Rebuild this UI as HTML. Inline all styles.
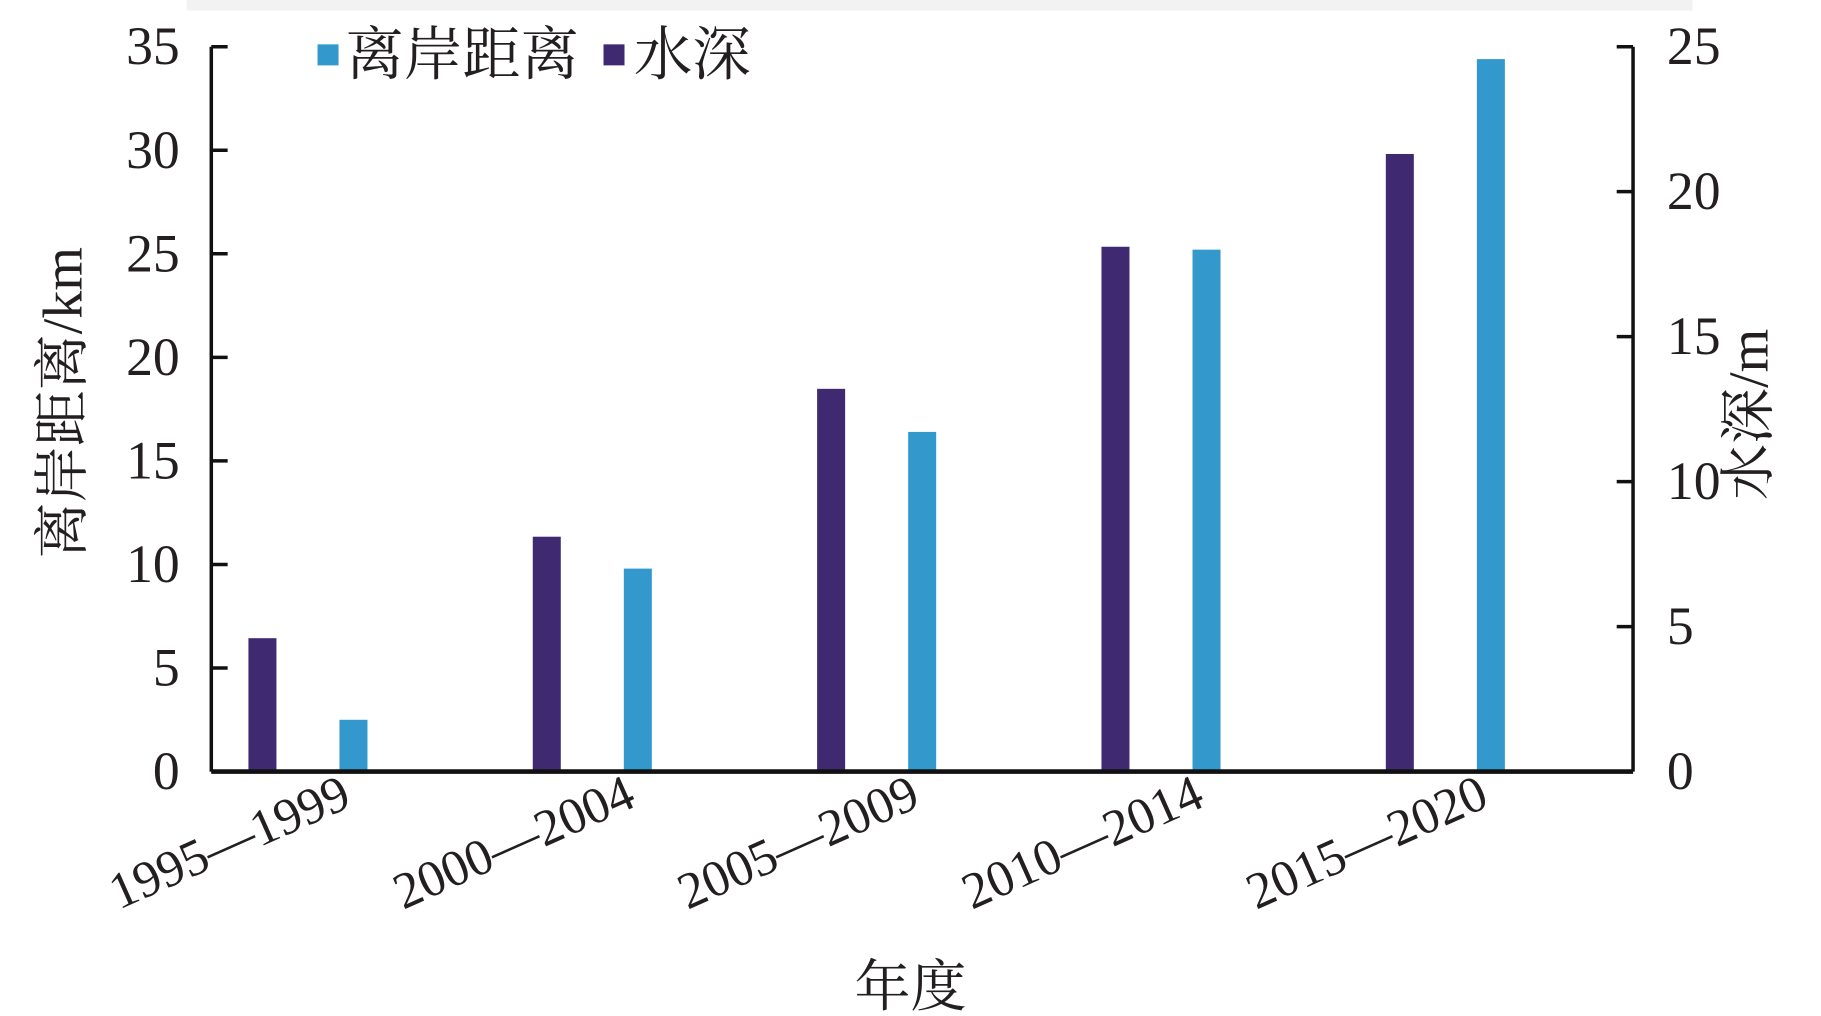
<!DOCTYPE html>
<html><head><meta charset="utf-8"><style>html,body{margin:0;padding:0;background:#fff}svg{display:block}text{font-family:"Liberation Serif","Noto Serif CJK SC",serif;fill:#231f20}</style></head>
<body>
<svg id="chart" width="1821" height="1016" viewBox="0 0 1560 870.4" xmlns="http://www.w3.org/2000/svg">
<rect x="160" y="0" width="1290" height="9" fill="#f2f2f2"/>
<g id="plot"></g>
<rect x="272" y="38" width="18" height="18" fill="#3399cc"/>
<text x="296" y="64" font-size="50">离岸距离</text>
<rect x="517" y="38" width="18" height="18" fill="#3f2a72"/>
<text x="543" y="64" font-size="50">水深</text>
<text transform="translate(70,345) rotate(-90)" text-anchor="middle" font-size="48">离岸距离/km</text>
<text transform="translate(1514,355) rotate(-90)" text-anchor="middle" font-size="48">水深/m</text>
<text x="780" y="862" text-anchor="middle" font-size="48">年度</text>
</svg>
<script>
const categories = ["1995—1999","2000—2004","2005—2009","2010—2014","2015—2020"];
const distanceValues = [2.5, 9.8, 16.4, 25.2, 34.4];
const depthValues = [4.6, 8.1, 13.2, 18.1, 21.3];
const leftTicks = [0,5,10,15,20,25,30,35];
const rightTicks = [0,5,10,15,20,25];
const NS="http://www.w3.org/2000/svg";
const g=document.getElementById('plot');
const X0=181,X1=1399,Y0=661,Y1=40;
const yL=v=>Y0-(v/35)*(Y0-Y1);
const yR=v=>Y0-(v/25)*(Y0-Y1);
const band=(X1-X0)/categories.length;
const xc=i=>X0+band*(i+0.5);
function mk(t,a){const e=document.createElementNS(NS,t);for(const k in a)e.setAttribute(k,a[k]);g.appendChild(e);return e;}
categories.forEach((c,i)=>{
  const b=mk('rect',{x:xc(i)-12,y:yL(distanceValues[i]),width:24,height:Y0-yL(distanceValues[i]),fill:'#3399cc'});
  
  
  const p=mk('rect',{x:xc(i)-90,y:yR(depthValues[i]),width:24,height:Y0-yR(depthValues[i]),fill:'#3f2a72'});
  
  
  const t=mk('text',{'text-anchor':'end','font-size':'44',transform:`translate(${xc(i)},690) rotate(-24)`});
  t.textContent=c;
  
  
});
leftTicks.forEach(v=>{
  const l=mk('line',{x1:X0,x2:X0+14,y1:yL(v),y2:yL(v),stroke:'#111','stroke-width':3});
  
  
  const t=mk('text',{x:154,y:yL(v)+15,'text-anchor':'end','font-size':'46'});
  t.textContent=v;
  
  
});
rightTicks.forEach(v=>{
  const l=mk('line',{x1:X1-14,x2:X1,y1:yR(v),y2:yR(v),stroke:'#111','stroke-width':3});
  
  
  const t=mk('text',{x:1428,y:yR(v)+15,'text-anchor':'start','font-size':'46'});
  t.textContent=v;
  
  
});
const la=mk('line',{x1:X0,x2:X0,y1:Y1,y2:Y0,stroke:'#111','stroke-width':3});


const ra=mk('line',{x1:X1,x2:X1,y1:Y1,y2:Y0,stroke:'#111','stroke-width':3});


const xa=mk('line',{x1:X0,x2:X1,y1:Y0,y2:Y0,stroke:'#111','stroke-width':4});


</script>
</body></html>
